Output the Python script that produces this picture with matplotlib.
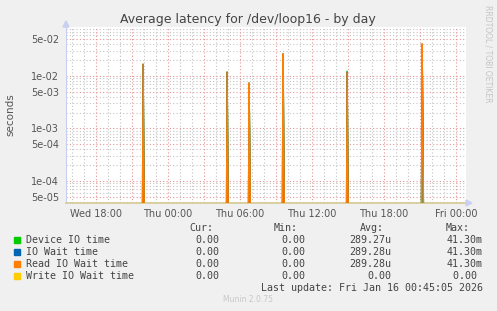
import numpy as np
import matplotlib
matplotlib.use("Agg")
import matplotlib.pyplot as plt
from matplotlib.ticker import FixedLocator, NullFormatter

# hours relative to Thu 00:00
spike_hours = [-2.08, 4.92, 6.75, 9.58, 14.92, 21.17]
device_peak = [0.0170, 0.0121, 0.0074, 0.0265, 0.0126, 0.0405]
iowait_peak = [0.0170, 0.0120, 0.0074, 0.0265, 0.0120, 0.0410]
read_peak = [0.0172, 0.0121, 0.0074, 0.0266, 0.0118, 0.0413]
tail_vals = [1.0e-4, 8e-5, 1.8e-4, 2.2e-4, 7e-5, 5e-4]

xtick_hours = [-6, 0, 6, 12, 18, 24]
xtick_labels = ["Wed 18:00", "Thu 00:00", "Thu 06:00", "Thu 12:00", "Thu 18:00", "Fri 00:00"]
ytick_vals = [5e-5, 1e-4, 5e-4, 1e-3, 5e-3, 1e-2, 5e-2]
ytick_labels = ["5e-05", "1e-04", "5e-04", "1e-03", "5e-03", "1e-02", "5e-02"]

legend_names = ["Device IO time", "IO Wait time", "Read IO Wait time", "Write IO Wait time"]
legend_colors = ["#00cc00", "#0066b3", "#ff8000", "#ffcc00"]
cur_vals = ["0.00", "0.00", "0.00", "0.00"]
min_vals = ["0.00", "0.00", "0.00", "0.00"]
avg_vals = ["289.27u", "289.28u", "289.28u", "0.00"]
max_vals = ["41.30m", "41.30m", "41.30m", "0.00 "]

step = 5 / 60.0
floor = 1e-7


def build(peaks):
    t, v = [], []
    for h, p, tl in zip(spike_hours, peaks, tail_vals):
        t += [h - step, h, h + step, h + 2 * step, np.nan]
        v += [floor, p, tl, floor, np.nan]
    return np.array(t), np.array(v)


W, H = 497, 311
fig = plt.figure(figsize=(W / 100, H / 100), dpi=100)
fig.patch.set_facecolor("#f0f0f0")

x0, x1, y0, y1 = 66, 466, 27, 203
ax = fig.add_axes([x0 / W, 1 - y1 / H, (x1 - x0) / W, (y1 - y0) / H])
ax.set_facecolor("white")
ax.set_yscale("log")
ax.set_xlim(-8.5, 24.83)
ax.set_ylim(3.8e-5, 0.0857)

# grid
minor_x = [h for h in range(-8, 25) if h % 3 != 0]
major_x = [h for h in range(-8, 25) if h % 3 == 0]
minor_y = [m * 10.0 ** e for e in range(-5, -1) for m in (2, 3, 4, 6, 7, 8, 9)]
major_y = [m * 10.0 ** e for e in range(-5, -1) for m in (1, 5)]
gray = dict(color="#c4c4c4", lw=0.8, ls=(0, (1, 2)), zorder=0)
red = dict(color="#e89494", lw=0.8, ls=(0, (1, 2)), zorder=1)
for h in minor_x:
    ax.axvline(h, **gray)
for yv in minor_y:
    ax.axhline(yv, **gray)
for h in major_x:
    ax.axvline(h, **red)
for yv in major_y:
    ax.axhline(yv, **red)

for peaks, c in zip([device_peak, iowait_peak, read_peak], legend_colors[:3]):
    t, v = build(peaks)
    ax.plot(t, v, color=c, lw=1.0, solid_joinstyle="miter", zorder=3)
    ax.fill_between(t, floor, v, color="#b07a2a", alpha=0.35, lw=0, zorder=2)

ax.xaxis.set_major_locator(FixedLocator(xtick_hours))
ax.set_xticklabels(xtick_labels)
ax.yaxis.set_major_locator(FixedLocator(ytick_vals))
ax.set_yticklabels(ytick_labels)
ax.yaxis.set_minor_formatter(NullFormatter())
ax.tick_params(axis="both", which="both", length=0, labelsize=7, colors="#555555", pad=4)
ax.tick_params(axis="y", pad=5)

for s in ["top", "right"]:
    ax.spines[s].set_visible(False)
ax.spines["left"].set_color("#c8cff0")
ax.spines["left"].set_linewidth(0.8)
ax.spines["bottom"].set_color("#d6ca92")
ax.spines["bottom"].set_linewidth(1.2)

# axis arrows
fig.patches.append(plt.Polygon([[x0 - 3, H - 27], [x0 + 3, H - 27], [x0, H - 21]], closed=True,
                               transform=None, color="#c8cff0", zorder=5))
fig.patches.append(plt.Polygon([[x1, H - 200], [x1, H - 206], [x1 + 6, H - 203]], closed=True,
                               transform=None, color="#c8cff0", zorder=5))

fig.text(248 / W, 1 - 19 / H, "Average latency for /dev/loop16 - by day", ha="center", va="center",
         fontsize=9, color="#444444")
fig.text(10 / W, 1 - 115 / H, "seconds", rotation=90, ha="center", va="center", fontsize=7.5,
         color="#555555")
fig.text(488 / W, 1 - 5 / H, "RRDTOOL / TOBI OETIKER", rotation=270, ha="center", va="top",
         fontsize=5.5, color="#c4c4c4")

mono = "DejaVu Sans Mono"
fs = 7.2
tc = "#444444"


def put(x, y, s, ha="left", **kw):
    fig.text(x / W, 1 - y / H, s, ha=ha, va="center", fontsize=fs, family=mono, color=tc, **kw)


put(213, 228, "Cur:", ha="right")
put(298, 228, "Min:", ha="right")
put(384, 228, "Avg:", ha="right")
put(470, 228, "Max:", ha="right")
for i, name in enumerate(legend_names):
    y = 240 + 12 * i
    fig.patches.append(plt.Rectangle((14, H - y - 3), 6, 6, transform=None,
                                     color=legend_colors[i]))
    put(26, y, name)
    put(219.5, y, cur_vals[i], ha="right")
    put(305, y, min_vals[i], ha="right")
    put(391.5, y, avg_vals[i], ha="right")
    put(482.7, y, max_vals[i], ha="right")
put(482.7, 288, "Last update: Fri Jan 16 00:45:05 2026", ha="right")
fig.text(248 / W, 1 - 300 / H, "Munin 2.0.75", ha="center", va="center", fontsize=5.5,
         color="#c8c8c8")

fig.savefig("out.png", dpi=100, facecolor=fig.get_facecolor())
